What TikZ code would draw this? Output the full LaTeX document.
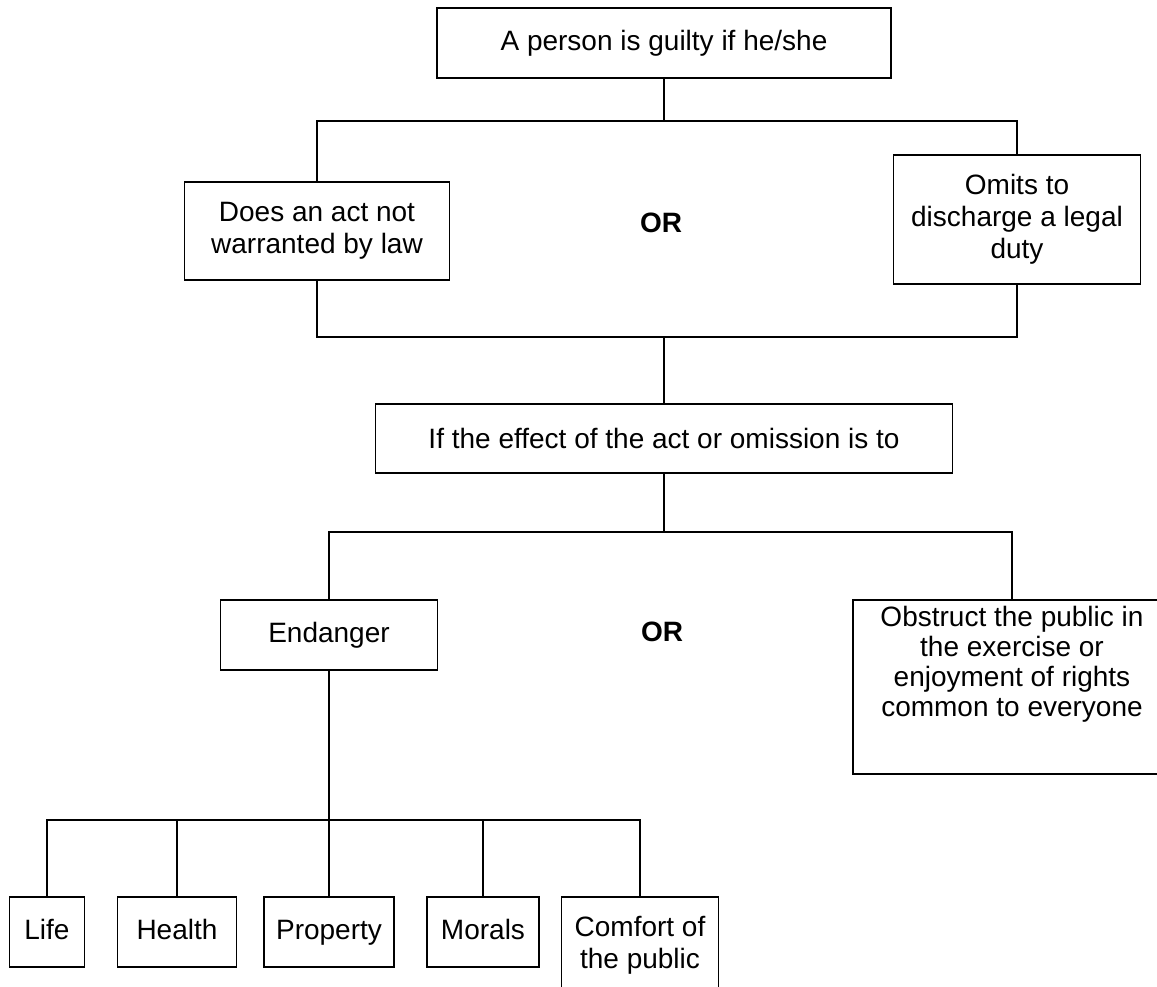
\documentclass[tikz,border=0pt]{standalone}
\usepackage{fontspec}
\setmainfont{Liberation Sans}
\tikzset{
  box/.style={draw, line width=1.6pt, align=center, inner sep=0pt},
  leaf/.style={box, minimum height=70, text height=20, text depth=6},
  link/.style={line width=1.6pt},
}
\begin{document}
\begin{tikzpicture}[x=1pt, y=-1pt, font=\fontsize{28}{32}\selectfont]
\useasboundingbox (0,0) rectangle (1157,986);

% first split
\node[box, minimum width=454, minimum height=70] (guilty) at (664,43) {A person is guilty if he/she};
\node[box, minimum width=265, minimum height=98] (act) at (317,231) {Does an act not\\warranted by law};
\node[box, minimum width=247, minimum height=129] (omit) at (1017,219.5) {Omits to\\discharge a legal\\duty};
\node[font=\fontsize{28}{32}\selectfont\bfseries] (orA) at (661,223) {OR};

\coordinate (splitA) at (664,121);
\coordinate (joinA) at (664,337);
\draw[link] (guilty.south) -- (splitA);
\draw[link] (act.north) |- (splitA) -| (omit.north);
\draw[link] (act.south) |- (joinA) -| (omit.south);

% effect
\node[box, minimum width=577, minimum height=69] (effect) at (664,438.5) {If the effect of the act or omission is to};
\draw[link] (joinA) -- (effect.north);

\node[box, minimum width=217, minimum height=70] (endanger) at (329,635) {Endanger};
\node[box, minimum width=318, minimum height=174] (obstruct) at (1012,687) {};
\node[align=center, font=\fontsize{28}{30}\selectfont] (obstructtext) at (1012,664) {Obstruct the public in\\the exercise or\\enjoyment of rights\\common to everyone};
\node[font=\fontsize{28}{32}\selectfont\bfseries] (orB) at (662,632) {OR};

\coordinate (splitB) at (664,532);
\draw[link] (effect.south) -- (splitB);
\draw[link] (endanger.north) |- (splitB) -| (obstruct.north);

% what is endangered
\node[leaf, minimum width=75] (life) at (47,932) {Life};
\node[leaf, minimum width=119] (health) at (177,932) {Health};
\node[leaf, minimum width=130] (property) at (329,932) {Property};
\node[leaf, minimum width=112] (morals) at (483,932) {Morals};
\node[box, minimum width=157, minimum height=96] (comfort) at (640,945) {Comfort of\\the public};

\coordinate (splitC) at (329,820);
\draw[link] (endanger.south) -- (splitC);
\draw[link] (life.north) |- (splitC) -| (comfort.north);
\foreach \n in {health, property, morals}
  \draw[link] (\n.north) -- (\n.north |- splitC);

\end{tikzpicture}
\end{document}
